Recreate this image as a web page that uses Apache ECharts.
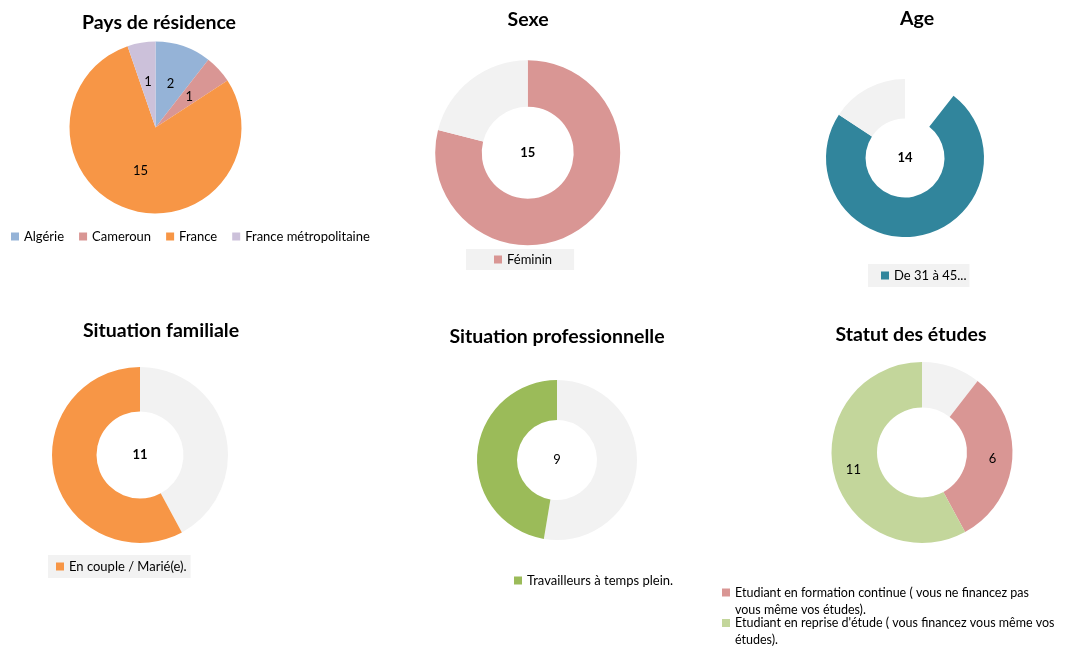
<!DOCTYPE html>
<html>
<head>
<meta charset="utf-8">
<script src="https://cdn.jsdelivr.net/npm/echarts@6/dist/echarts.min.js"></script>
<style>
html,body{margin:0;padding:0;background:#fff;}
#chart{width:1067px;height:646px;}
</style>
</head>
<body>
<div id="chart"></div>
<script>
// ---- Data ----
const paysCategories = ['Algérie', 'Cameroun', 'France', 'France métropolitaine'];
const paysValues = [2, 1, 15, 1];

const sexeCategories = ['Féminin', 'Autres (sexe)'];
const sexeValues = [15, 4];

const ageCategories = ['Non renseigné (âge)', 'De 31 à 45...', 'Autres (âge)'];
const ageValues = [2, 14, 3];

const familleCategories = ['Autres (famille)', 'En couple / Marié(e).'];
const familleValues = [8, 11];

const proCategories = ['Autres (pro)', 'Travailleurs à temps plein.'];
const proValues = [10, 9];

const etudesCategories = ['Autres (études)', 'Etudiant en formation continue ( vous ne financez pas vous même vos études).', 'Etudiant en reprise d\'étude ( vous financez vous même vos études).'];
const etudesValues = [2, 6, 11];

// ---- Styles ----
const FONT = 'Lato, "Open Sans", sans-serif';
const GREY = '#F2F2F2';
const paysColors = ['#95B3D7', '#D99694', '#F79646', '#CCC1DA'];
const sexeColors = ['#D99694', GREY];
const ageColors = ['rgba(0,0,0,0)', '#31859C', GREY];
const familleColors = [GREY, '#F79646'];
const proColors = [GREY, '#9BBB59'];
const etudesColors = [GREY, '#D99694', '#C3D69B'];

function buildData(names, values, colors, labelFor) {
  return names.map((n, i) => ({
    name: n,
    value: values[i],
    itemStyle: { color: colors[i] },
    label: labelFor(i)
  }));
}

function pieSeries(center, radius, data) {
  return {
    type: 'pie',
    center: center,
    radius: radius,
    startAngle: 90,
    clockwise: true,
    avoidLabelOverlap: false,
    silent: true,
    animation: false,
    padAngle: 0,
    itemStyle: { borderWidth: 0 },
    label: { formatter: '{c}' },
    labelLine: { show: false },
    emphasis: { disabled: true },
    data: data
  };
}

const normalLabel = { show: true, position: 'inside', formatter: '{c}', color: '#000', fontFamily: FONT, fontSize: 13 };
const centerBold = { show: true, position: 'center', formatter: '{c}', color: '#000', fontFamily: FONT, fontSize: 13, fontWeight: 'bold' };
const centerNormal = { show: true, position: 'center', formatter: '{c}', color: '#000', fontFamily: FONT, fontSize: 13 };
const hidden = { show: false };

function title(text, x, y) {
  return {
    text: text, left: x, top: y, textAlign: 'center', padding: 0,
    textStyle: { fontFamily: FONT, fontSize: 19.5, fontWeight: 'bold', color: '#000' }
  };
}

const legendBase = {
  icon: 'rect', itemWidth: 8, itemHeight: 8, selectedMode: false,
  textStyle: { fontFamily: FONT, fontSize: 13, color: '#000' }
};

const wrapText = (w) => ({ fontFamily: FONT, fontSize: 12.5, color: '#000', width: w, overflow: 'break', lineHeight: 17 });

const option = {
  backgroundColor: '#fff',
  animation: false,
  title: [
    title('Pays de résidence', 159, 13),
    title('Sexe', 528, 10),
    title('Age', 917, 9),
    title('Situation familiale', 161, 321),
    title('Situation professionnelle', 557, 327),
    title('Statut des études', 911, 325)
  ],
  legend: [
    Object.assign({}, legendBase, { left: 11, top: 230, itemGap: 15, padding: 0, data: paysCategories }),
    Object.assign({}, legendBase, { left: 466, top: 249, padding: [4, 22, 4, 28], backgroundColor: GREY, data: [sexeCategories[0]] }),
    Object.assign({}, legendBase, { left: 868, top: 264, padding: [5, 3, 5, 13], backgroundColor: GREY, data: [ageCategories[1]] }),
    Object.assign({}, legendBase, { left: 48, top: 555, padding: [5, 4, 5, 8], backgroundColor: GREY, data: [familleCategories[1]] }),
    Object.assign({}, legendBase, { left: 514, top: 574, padding: 0, data: [proCategories[1]] }),
    Object.assign({}, legendBase, { left: 722, top: 567, padding: 0, orient: 'vertical',
      formatter: (n) => '\n' + n, textStyle: wrapText(316), data: [etudesCategories[1]] }),
    Object.assign({}, legendBase, { left: 722, top: 597.5, padding: 0, orient: 'vertical',
      formatter: (n) => '\n' + n, textStyle: wrapText(365), data: [etudesCategories[2]] })
  ],
  series: [
    pieSeries([155.5, 127.5], [0, 86], buildData(paysCategories, paysValues, paysColors, () => normalLabel)),
    pieSeries([527.7, 152.7], [46, 92.5], buildData(sexeCategories, sexeValues, sexeColors, i => i === 0 ? centerBold : hidden)),
    pieSeries([905, 158], [39.5, 79], buildData(ageCategories, ageValues, ageColors, i => i === 1 ? centerBold : hidden)),
    pieSeries([140, 455], [43.5, 88], buildData(familleCategories, familleValues, familleColors, i => i === 1 ? centerBold : hidden)),
    pieSeries([557, 460], [40, 80], buildData(proCategories, proValues, proColors, i => i === 1 ? centerNormal : hidden)),
    pieSeries([922, 452.5], [45, 90.5], buildData(etudesCategories, etudesValues, etudesColors, i => i === 0 ? hidden : normalLabel))
  ]
};

const chart = echarts.init(document.getElementById('chart'), null, { renderer: 'canvas' });
chart.setOption(option);
</script>
</body>
</html>
